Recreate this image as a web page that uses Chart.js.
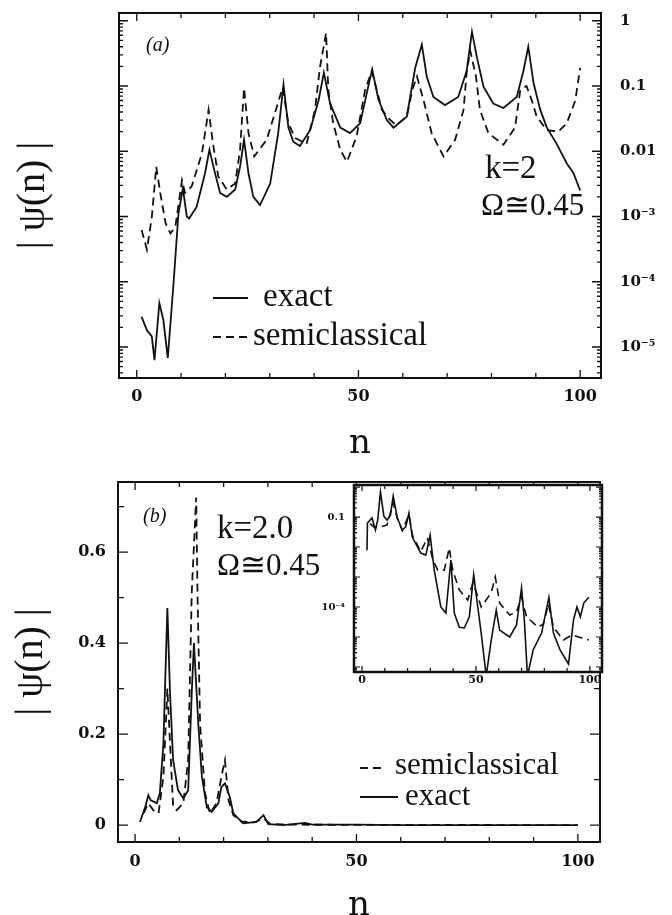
<!DOCTYPE html>
<html>
<head>
<meta charset="utf-8">
<script src="https://cdn.jsdelivr.net/npm/chart.js@4.4.0/dist/chart.umd.min.js"></script>
<style>
html, body { margin: 0; padding: 0; background: #fff; overflow: hidden; width: 672px; height: 915px; }
#wrap { position: relative; width: 672px; height: 915px; overflow: hidden; }
canvas { position: absolute; }
#cA { left: 0; top: 0; }
#cB { left: 0; top: 462px; }
#cI { left: 300px; top: 470px; }
</style>
</head>
<body>
<div id="wrap">
  <canvas id="cA" width="672" height="462"></canvas>
  <canvas id="cB" width="672" height="470"></canvas>
  <canvas id="cI" width="320" height="225"></canvas>
</div>
<script>
(function () {
    "use strict";

    //------------------------------- data: panel (a), log scale -----------------------------
    var aExactN = [1.1, 2.3, 3.4, 4.0, 5.1, 6.0, 7.0, 8.3, 9.4, 10.4, 11.3, 11.8, 13.5, 15.4, 16.4, 17.5, 18.8, 20.3, 22.2, 23.3,
        24.2, 25.2, 26.3, 27.8, 30.1, 31.9, 33.1, 34.2, 35.3, 36.8, 39.1, 41.0, 42.2, 43.6, 45.9, 48.1, 50.4, 52.2, 53.1, 54.5,
        56.4, 57.9, 60.9, 62.8, 64.3, 65.4, 66.9, 69.5, 72.5, 74.4, 75.6, 76.7, 78.2, 80.4, 82.7, 85.7, 87.2, 88.3, 89.5, 91.0,
        92.5, 94.7, 97.0, 98.5, 100];
    var aExact = [2.9e-5, 1.8e-5, 1.45e-5, 6.3e-6, 4.7e-5, 2.6e-5, 6.8e-6, 9.5e-5, 1.1e-3, 2.7e-3, 1.0e-3, 9.3e-4, 1.4e-3, 4.6e-3, 1.05e-2, 5.1e-3, 2.3e-3, 2.0e-3, 2.6e-3, 5.8e-3,
        1.5e-2, 4.6e-3, 2.0e-3, 1.5e-3, 3.2e-3, 1.9e-2, 0.105, 2.3e-2, 1.4e-2, 1.2e-2, 2.1e-2, 6.0e-2, 0.16, 5.4e-2, 2.3e-2, 1.9e-2, 2.7e-2, 9.8e-2, 0.18, 6.2e-2,
        3.0e-2, 2.3e-2, 3.4e-2, 0.19, 0.43, 0.14, 6.8e-2, 5.1e-2, 6.8e-2, 0.17, 0.68, 0.28, 9.8e-2, 5.4e-2, 4.6e-2, 6.8e-2, 0.17, 0.40, 0.11, 4.3e-2,
        2.3e-2, 1.3e-2, 6.5e-3, 4.6e-3, 2.5e-3];
    var aSemiN = [1.1, 2.3, 3.4, 4.4, 5.3, 6.5, 7.6, 8.7, 10.2, 10.9, 12.4, 14.7, 16.2, 17.2, 18.4, 20.3, 22.2, 23.3, 24.2, 25.2,
        26.5, 29.3, 31.6, 32.9, 34.2, 35.7, 38.3, 40.2, 41.3, 42.7, 43.2, 44.3, 45.9, 47.4, 49.6, 51.5, 53.0, 55.3, 56.8, 58.5,
        60.9, 62.2, 63.2, 64.7, 66.5, 69.2, 71.8, 73.7, 74.4, 75.2, 76.5, 77.4, 79.3, 82.7, 85.3, 86.5, 87.9, 89.1, 90.2, 92.5,
        95.1, 97.0, 98.9, 100];
    var aSemi = [6.2e-4, 3.1e-4, 9.8e-4, 5.8e-3, 2.3e-3, 7.9e-4, 5.5e-4, 6.9e-4, 3.6e-3, 2.3e-3, 2.9e-3, 9.3e-3, 4.3e-2, 1.3e-2, 4.1e-3, 2.6e-3, 3.2e-3, 1.05e-2, 9.3e-2, 1.9e-2,
        8.3e-3, 1.5e-2, 4.8e-2, 9.5e-2, 2.7e-2, 1.6e-2, 1.3e-2, 4.3e-2, 0.19, 0.65, 8.7e-2, 2.7e-2, 1.05e-2, 6.9e-3, 1.7e-2, 8.7e-2, 0.17, 4.3e-2, 3.2e-2, 2.5e-2,
        3.4e-2, 0.09, 0.14, 6.0e-2, 1.9e-2, 8.3e-3, 1.5e-2, 4.3e-2, 0.16, 0.35, 0.14, 4.3e-2, 1.9e-2, 1.26e-2, 2.3e-2, 8.7e-2, 0.10, 6.0e-2, 3.4e-2, 2.1e-2,
        2.0e-2, 2.7e-2, 6.0e-2, 0.19];

    //------------------------------- data: panel (b), linear scale -----------------------------
    var bExactN = [1.1, 2.3, 3.0, 3.5, 4.9, 5.6, 6.4, 7.3, 7.9, 8.6, 9.7, 10.9, 12.0, 12.8, 13.3, 14.3, 15.1, 16.2, 17.3, 18.8,
        19.5, 20.3, 21.4, 22.2, 24.4, 27.4, 29.0, 30.1, 33.5, 38.4, 40.0, 50, 60, 100];
    var bExact = [0.007, 0.04, 0.066, 0.055, 0.048, 0.07, 0.18, 0.477, 0.29, 0.143, 0.077, 0.059, 0.077, 0.29, 0.40, 0.22, 0.106, 0.04, 0.029, 0.048,
        0.084, 0.092, 0.062, 0.026, 0.004, 0.007, 0.022, 0.002, 0.0, 0.005, 0.001, 0.001, 0.0, 0.0];
    var bSemiN = [1.9, 3.0, 4.1, 5.3, 6.4, 7.3, 7.9, 8.6, 9.4, 10.9, 12.0, 12.8, 13.8, 14.1, 14.7, 15.8, 16.9, 18.4, 19.5, 20.3,
        21.1, 22.2, 24.0, 27.0, 29.0, 30.5, 35.0, 100];
    var bSemi = [0.026, 0.048, 0.033, 0.026, 0.106, 0.30, 0.18, 0.04, 0.033, 0.048, 0.143, 0.51, 0.72, 0.51, 0.22, 0.07, 0.026, 0.048, 0.106, 0.143,
        0.055, 0.022, 0.008, 0.006, 0.015, 0.003, 0.001, 0.0];

    //------------------------------- data: inset of (b), log scale -----------------------------
    var iExactN = [2.2, 2.4, 4.4, 5.9, 6.9, 8.1, 9.6, 11.0, 12.5, 13.7, 15.5, 17.7, 19.2, 20.6, 22.1, 25.8, 28.0, 29.9, 31.7, 34.6,
        36.8, 39.0, 40.5, 42.7, 44.9, 47.1, 49.0, 50.8, 52.3, 54.5, 56.7, 58.9, 60.4, 64.8, 67.8, 70.0, 71.2, 72.6, 75.1, 78.8,
        82.0, 84.0, 86.9, 90.6, 92.8, 94.3, 95.8, 97.3, 99.5];
    var iExact = [7.8e-3, 6.3e-2, 9.3e-2, 3.7e-2, 7.9e-2, 0.68, 0.107, 7.9e-2, 0.117, 0.50, 9.3e-2, 3.7e-2, 4.7e-2, 0.135, 2.1e-2, 6.3e-3, 5.4e-3, 2.5e-2, 1.7e-3, 1.0e-4,
        6.3e-5, 3.7e-3, 6.3e-5, 2.1e-5, 2.0e-5, 4.7e-5, 1.2e-3, 1.0e-4, 1.35e-5, 5e-7, 7.9e-6, 7.9e-5, 1.7e-5, 1.0e-5, 2.5e-5, 4.3e-4, 4.0e-5, 5e-7, 3.7e-6, 1.35e-5,
        2.1e-4, 1.35e-5, 3.7e-6, 1.26e-6, 3.7e-5, 1.0e-4, 4.7e-5, 1.35e-4, 2.1e-4];
    var iSemiN = [3.5, 5.2, 8.1, 11.0, 13.7, 15.5, 17.7, 20.6, 22.1, 25.8, 28.7, 31.0, 33.2, 36.1, 38.3, 39.8, 42.7, 46.4, 48.6, 50.8,
        52.3, 56.7, 58.5, 60.4, 64.8, 67.8, 70.0, 72.2, 77.3, 79.6, 81.8, 84.0, 88.4, 92.1, 95.0, 99.5];
    var iSemi = [6e-2, 4.7e-2, 4.7e-2, 5.4e-2, 0.3, 9e-2, 3.5e-2, 0.12, 2.5e-2, 7e-3, 2e-2, 4e-3, 1.7e-3, 1.7e-3, 9.3e-3, 1.7e-3, 3.7e-4, 1.7e-4, 6.3e-4, 2.3e-4,
        1.0e-4, 3.0e-4, 1.0e-3, 1.35e-4, 5.4e-5, 6.8e-5, 2.1e-4, 4.7e-5, 2.1e-5, 2.7e-5, 1.26e-4, 2.1e-5, 7.9e-6, 1.17e-5, 1.0e-5, 7.9e-6];

    //------------------------------- ticks -----------------------------
    var nTicks = [0, 10, 20, 30, 40, 50, 60, 70, 80, 90, 100];
    var nLabels = ['0', '', '', '', '', '50', '', '', '', '', '100'];
    var aRightTicks = [1, 0.1, 0.01, 1e-3, 1e-4, 1e-5];
    var aRightLabels = ['1', '0.1', '0.01', '10\u207B\u00B3', '10\u207B\u2074', '10\u207B\u2075'];
    var bYTicks = [0, 0.1, 0.2, 0.3, 0.4, 0.5, 0.6, 0.7];
    var bYLabels = ['0', '', '0.2', '', '0.4', '', '0.6', ''];
    var iYTicks = [0.1, 1e-4];
    var iYLabels = ['0.1', '10\u207B\u2074'];

    var INK = '#111';
    var SERIF = '"Liberation Serif", "Times New Roman", serif';
    var NUMF = '"DejaVu Serif", serif';

    function pts(xs, ys) {
        return xs.map(function (x, i) { return { x: x, y: ys[i] }; });
    }

    function line(label, data, dashed, w) {
        return {
            label: label, data: data, xAxisID: 'x', yAxisID: 'y',
            borderColor: INK, borderWidth: w, borderDash: dashed ? [8, 5] : [],
            pointRadius: 0, tension: 0, fill: false
        };
    }

    function logTicks(min, max) {
        var out = [];
        for (var e = Math.floor(Math.log10(min)); e <= Math.ceil(Math.log10(max)); e++) {
            for (var m = 1; m < 10; m++) {
                var v = m * Math.pow(10, e);
                if (v >= min && v <= max) out.push(v);
            }
        }
        return out;
    }

    function isDecade(v) {
        var l = Math.log10(v);
        return Math.abs(l - Math.round(l)) < 1e-9;
    }

    function lookup(vals, labels) {
        return function (v) {
            for (var i = 0; i < vals.length; i++) {
                var d = vals[i] === 0 ? Math.abs(v) : Math.abs(v / vals[i] - 1);
                if (d < 1e-6) return labels[i];
            }
            return '';
        };
    }

    function setTicks(vals) {
        return function (s) {
            s.ticks = vals.map(function (v) { return { value: v }; });
        };
    }

    function fixWidth(w) {
        return function (s) { s.width = w; s.paddingTop = 0; s.paddingBottom = 0; };
    }
    function fixHeight(h) {
        return function (s) { s.height = h; s.paddingLeft = 0; s.paddingRight = 0; };
    }

    // inward ticks on both sides + box frame
    function framePlugin(cfg) {
        return {
            id: 'frame',
            beforeDatasetsDraw: function (chart) {
                if (!cfg.fill) return;
                var a = chart.chartArea, ctx = chart.ctx;
                ctx.save();
                ctx.fillStyle = '#fff';
                ctx.fillRect(a.left, a.top, a.right - a.left, a.bottom - a.top);
                ctx.restore();
            },
            afterDatasetsDraw: function (chart) {
                var ctx = chart.ctx, a = chart.chartArea;
                ctx.save();
                ctx.strokeStyle = INK;
                ctx.lineWidth = cfg.tickWidth;
                cfg.axes.forEach(function (ax) {
                    var s = chart.scales[ax.id];
                    s.ticks.forEach(function (t) {
                        var p = s.getPixelForValue(t.value);
                        var len = ax.major(t.value) ? ax.long : ax.short;
                        ctx.beginPath();
                        if (s.isHorizontal()) {
                            ctx.moveTo(p, a.bottom); ctx.lineTo(p, a.bottom - len);
                            ctx.moveTo(p, a.top); ctx.lineTo(p, a.top + len);
                        } else {
                            ctx.moveTo(a.left, p); ctx.lineTo(a.left + len, p);
                            ctx.moveTo(a.right, p); ctx.lineTo(a.right - len, p);
                        }
                        ctx.stroke();
                    });
                });
                ctx.lineWidth = cfg.frameWidth;
                ctx.strokeRect(a.left, a.top, a.right - a.left, a.bottom - a.top);
                ctx.restore();
            }
        };
    }

    // free text and hand placed legend, styles read from the datasets
    function notesPlugin(items) {
        return {
            id: 'notes',
            afterDraw: function (chart) {
                var ctx = chart.ctx;
                ctx.save();
                ctx.fillStyle = INK;
                ctx.strokeStyle = INK;
                ctx.textBaseline = 'alphabetic';
                items.forEach(function (it) {
                    var text = it.text;
                    if (it.ds !== undefined) {
                        var ds = chart.data.datasets[it.ds];
                        ctx.lineWidth = ds.borderWidth;
                        ctx.setLineDash(ds.borderDash || []);
                        ctx.beginPath();
                        ctx.moveTo(it.x0, it.y);
                        ctx.lineTo(it.x1, it.y);
                        ctx.stroke();
                        ctx.setLineDash([]);
                        text = ds.label;
                    }
                    ctx.font = it.font;
                    ctx.fillText(text, it.tx, it.ty);
                });
                ctx.restore();
            }
        };
    }

    var labelFont = function (size) { return { family: NUMF, size: size, weight: 'bold' }; };

    //------------------------------- panel (a) -----------------------------
    var aMin = 3.35e-6, aMax = 1.315;
    var aLogTicks = logTicks(aMin, aMax);
    var nMajor = function (v) { return lookup(nTicks, nLabels)(v) !== ''; };

    new Chart(document.getElementById('cA'), {
        type: 'line',
        data: {
            datasets: [
                line('exact', pts(aExactN, aExact), false, 1.8),
                line('semiclassical', pts(aSemiN, aSemi), true, 1.8)
            ]
        },
        options: {
            responsive: false, animation: false, devicePixelRatio: 1,
            layout: { padding: { top: 13, right: 0, bottom: 0, left: 0 } },
            plugins: { legend: { display: false }, tooltip: { enabled: false } },
            scales: {
                x: {
                    type: 'linear', position: 'bottom', min: -4, max: 104.7,
                    grid: { display: false, drawTicks: false }, border: { display: false },
                    afterBuildTicks: setTicks(nTicks), afterFit: fixHeight(84),
                    ticks: { autoSkip: false, maxRotation: 0, padding: 9, color: INK, font: labelFont(16), callback: lookup(nTicks, nLabels) },
                    title: { display: true, text: 'n', color: INK, font: { family: NUMF, size: 34, lineHeight: 1 }, padding: { top: 0, bottom: 1 } }
                },
                y: {
                    type: 'logarithmic', position: 'left', min: aMin, max: aMax,
                    grid: { display: false, drawTicks: false }, border: { display: false },
                    afterBuildTicks: setTicks(aLogTicks), afterFit: fixWidth(119),
                    ticks: { autoSkip: false, callback: function () { return ''; } },
                    title: { display: true, text: '| \u03C8(n) |', color: INK, font: { family: SERIF, size: 40, lineHeight: 1.2 }, padding: { top: 9, bottom: 0 } }
                },
                yR: {
                    type: 'logarithmic', position: 'right', min: aMin, max: aMax,
                    grid: { display: false, drawTicks: false }, border: { display: false },
                    afterBuildTicks: setTicks(aRightTicks), afterFit: fixWidth(71),
                    ticks: { autoSkip: false, padding: 19, color: INK, font: labelFont(15), callback: lookup(aRightTicks, aRightLabels) }
                }
            }
        },
        plugins: [
            framePlugin({
                frameWidth: 2, tickWidth: 1.3,
                axes: [
                    { id: 'x', major: nMajor, long: 8, short: 5 },
                    { id: 'y', major: isDecade, long: 9, short: 4 }
                ]
            }),
            notesPlugin([
                { text: '(a)', tx: 146, ty: 51, font: 'italic 20px ' + SERIF },
                { ds: 0, x0: 213, x1: 248, y: 298, tx: 263, ty: 306, font: '33px ' + SERIF },
                { ds: 1, x0: 213, x1: 248, y: 337, tx: 253, ty: 345, font: '33px ' + SERIF },
                { text: 'k=2', tx: 485, ty: 178, font: '33px ' + SERIF },
                { text: '\u03A9\u22450.45', tx: 481, ty: 215, font: '31px ' + SERIF }
            ])
        ]
    });

    //------------------------------- panel (b) -----------------------------
    var bMajor = function (v) { return lookup(bYTicks, bYLabels)(v) !== ''; };

    new Chart(document.getElementById('cB'), {
        type: 'line',
        data: {
            datasets: [
                line('exact', pts(bExactN, bExact), false, 1.8),
                line('semiclassical', pts(bSemiN, bSemi), true, 1.8)
            ]
        },
        options: {
            responsive: false, animation: false, devicePixelRatio: 1,
            layout: { padding: { top: 20, right: 72, bottom: 0, left: 0 } },
            plugins: { legend: { display: false }, tooltip: { enabled: false } },
            scales: {
                x: {
                    type: 'linear', position: 'bottom', min: -3.85, max: 105,
                    grid: { display: false, drawTicks: false }, border: { display: false },
                    afterBuildTicks: setTicks(nTicks), afterFit: fixHeight(90),
                    ticks: { autoSkip: false, maxRotation: 0, padding: 10, color: INK, font: labelFont(16), callback: lookup(nTicks, nLabels) },
                    title: { display: true, text: 'n', color: INK, font: { family: NUMF, size: 34, lineHeight: 1 }, padding: { top: 0, bottom: 9 } }
                },
                y: {
                    type: 'linear', position: 'left', min: -0.037, max: 0.754,
                    grid: { display: false, drawTicks: false }, border: { display: false },
                    afterBuildTicks: setTicks(bYTicks), afterFit: fixWidth(118),
                    ticks: { autoSkip: false, padding: 12, color: INK, font: labelFont(16), callback: lookup(bYTicks, bYLabels) },
                    title: { display: true, text: '| \u03C8(n) |', color: INK, font: { family: SERIF, size: 40, lineHeight: 1.2 }, padding: { top: 7, bottom: 0 } }
                }
            }
        },
        plugins: [
            framePlugin({
                frameWidth: 2, tickWidth: 1.3,
                axes: [
                    { id: 'x', major: nMajor, long: 8, short: 5 },
                    { id: 'y', major: bMajor, long: 10, short: 6 }
                ]
            }),
            notesPlugin([
                { text: '(b)', tx: 143, ty: 60, font: 'italic 20px ' + SERIF },
                { text: 'k=2.0', tx: 217, ty: 76, font: '33px ' + SERIF },
                { text: '\u03A9\u22450.45', tx: 217, ty: 113, font: '31px ' + SERIF },
                { ds: 1, x0: 360, x1: 386, y: 306, tx: 395, ty: 312, font: '31px ' + SERIF },
                { ds: 0, x0: 360, x1: 398, y: 335, tx: 405, ty: 343, font: '31px ' + SERIF }
            ])
        ]
    });

    //------------------------------- inset -----------------------------
    var iMin = 6.8e-7, iMax = 1.17;

    new Chart(document.getElementById('cI'), {
        type: 'line',
        data: {
            datasets: [
                line('exact', pts(iExactN, iExact), false, 1.6),
                line('semiclassical', pts(iSemiN, iSemi), true, 1.6)
            ]
        },
        options: {
            responsive: false, animation: false, devicePixelRatio: 1,
            layout: { padding: { top: 15, right: 18, bottom: 0, left: 0 } },
            plugins: { legend: { display: false }, tooltip: { enabled: false } },
            scales: {
                x: {
                    type: 'linear', position: 'bottom', min: -3.5, max: 105.3,
                    grid: { display: false, drawTicks: false }, border: { display: false },
                    afterBuildTicks: setTicks(nTicks), afterFit: fixHeight(23),
                    ticks: { autoSkip: false, maxRotation: 0, padding: 2, color: INK, font: labelFont(11), callback: lookup(nTicks, nLabels) }
                },
                y: {
                    type: 'logarithmic', position: 'left', min: iMin, max: iMax,
                    grid: { display: false, drawTicks: false }, border: { display: false },
                    afterBuildTicks: setTicks(logTicks(iMin, iMax)), afterFit: fixWidth(54),
                    ticks: { autoSkip: false, padding: 9, color: INK, font: labelFont(10), callback: lookup(iYTicks, iYLabels) }
                }
            }
        },
        plugins: [
            framePlugin({
                frameWidth: 2.5, tickWidth: 1.2, fill: true,
                axes: [
                    { id: 'x', major: nMajor, long: 6, short: 4 },
                    { id: 'y', major: isDecade, long: 6, short: 3 }
                ]
            })
        ]
    });
})();
</script>
</body>
</html>
